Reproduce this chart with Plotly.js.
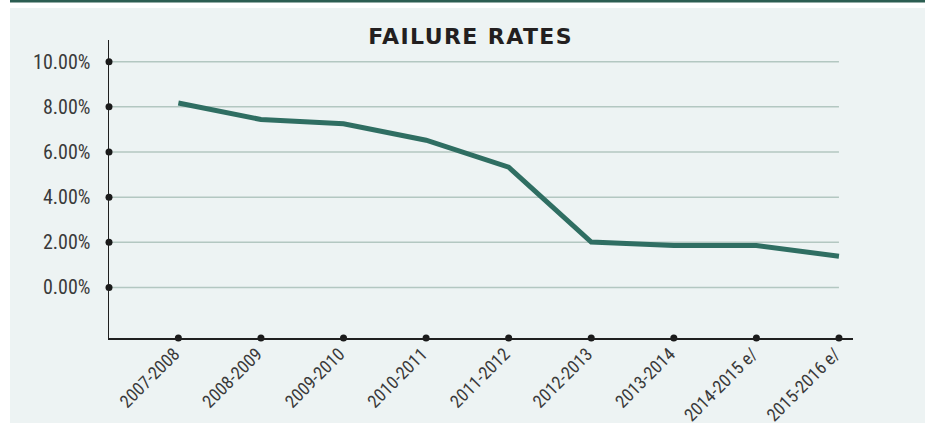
<!DOCTYPE html>
<html>
<head>
<meta charset="utf-8">
<script src="https://cdn.plot.ly/plotly-3.0.1.min.js"></script>
<style>
html, body { margin: 0; padding: 0; background: #ffffff; }
#chart { width: 925px; height: 423px; }
</style>
</head>
<body>
<div id="chart"></div>
<script>
// Data
var categories = ["2007-2008", "2008-2009", "2009-2010", "2010-2011", "2011-2012",
                  "2012-2013", "2013-2014", "2014-2015 e/", "2015-2016 e/"];
var failureRates = [8.17, 7.44, 7.25, 6.52, 5.33, 2.01, 1.86, 1.86, 1.38];
var yTickValues = [0, 2, 4, 6, 8, 10];
var yTickLabels = ["0.00%", "2.00%", "4.00%", "6.00%", "8.00%", "10.00%"];
var chartTitle = "FAILURE RATES";

var xRange = [-0.84, 8.17];
var yRange = [-2.24, 10.96];
var lastIndex = categories.length - 1;
var catIdx = categories.map(function (c, i) { return i; });

var xTickFont = { family: "'Roboto Condensed', 'DejaVu Sans Condensed', sans-serif", size: 18, color: "#3a3a3a" };
var yTickFont = { family: "'Roboto Condensed', 'DejaVu Sans Condensed', sans-serif", size: 20, color: "#3a3a3a" };

var traces = [
  {
    x: catIdx, y: failureRates, type: "scatter", mode: "lines",
    line: { color: "#2f6e62", width: 5 }, hoverinfo: "skip", showlegend: false
  },
  // dots on y-axis ticks
  {
    x: yTickValues.map(function () { return xRange[0]; }), y: yTickValues,
    type: "scatter", mode: "markers", cliponaxis: false,
    marker: { color: "#1a1a1a", size: 7 }, hoverinfo: "skip", showlegend: false
  },
  // dots on x-axis ticks
  {
    x: catIdx, y: catIdx.map(function () { return yRange[0]; }),
    type: "scatter", mode: "markers", cliponaxis: false,
    marker: { color: "#1a1a1a", size: 7 }, hoverinfo: "skip", showlegend: false
  }
];

var shapes = [
  // background panel
  { type: "rect", xref: "paper", yref: "paper", layer: "below",
    x0: (10 - 109) / 744, x1: (925 - 109) / 744, y0: -85 / 298, y1: 1 + (40 - 8) / 298,
    fillcolor: "#edf3f3", line: { width: 0 } },
  // top bar
  { type: "rect", xref: "paper", yref: "paper", layer: "below",
    x0: (10 - 109) / 744, x1: (925 - 109) / 744, y0: 1 + (40 - 2.5) / 298, y1: 1 + 40 / 298,
    fillcolor: "#2b5d51", line: { width: 0 } }
];

yTickValues.forEach(function (v) {
  shapes.push({ type: "line", xref: "x", yref: "y", layer: "below",
    x0: xRange[0], x1: lastIndex, y0: v, y1: v,
    line: { color: "#b3c7c1", width: 1.5 } });
});

var layout = {
  width: 925, height: 423,
  margin: { l: 109, r: 72, t: 40, b: 85 },
  paper_bgcolor: "#ffffff",
  plot_bgcolor: "rgba(0,0,0,0)",
  title: {
    text: "<span style='letter-spacing:1.4px'><b>" + chartTitle + "</b></span>",
    font: { family: "'DejaVu Sans', sans-serif", size: 22, color: "#231f20" },
    x: 0.486, xanchor: "center", y: 0.914, yanchor: "middle", xref: "paper", yref: "container"
  },
  xaxis: {
    type: "linear", range: xRange,
    tickvals: catIdx, ticktext: categories,
    tickangle: -45, ticks: "", ticklen: 0,
    showgrid: false, zeroline: false,
    showline: true, linecolor: "#1f1f1f", linewidth: 1.5,
    tickfont: xTickFont, ticklabelstandoff: -3, ticklabelshift: -4
  },
  yaxis: {
    range: yRange,
    tickvals: yTickValues, ticktext: yTickLabels,
    ticks: "", showgrid: false, zeroline: false,
    showline: true, linecolor: "#1f1f1f", linewidth: 1.5,
    tickfont: yTickFont, ticklabelstandoff: 13
  },
  shapes: shapes,
  showlegend: false
};

Plotly.newPlot("chart", traces, layout, { displayModeBar: false, staticPlot: true });
</script>
</body>
</html>
